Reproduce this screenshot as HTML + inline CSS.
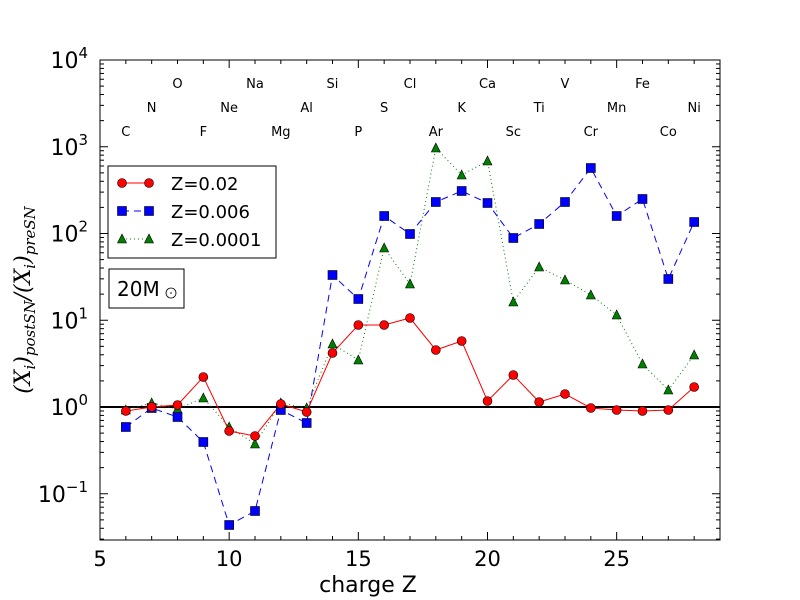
<!DOCTYPE html>
<html><head><meta charset="utf-8"><style>body{margin:0;background:#fff}svg{display:block}text{font-family:"DejaVu Sans","Liberation Sans",sans-serif}</style></head>
<body><svg id="s" width="800" height="600" xmlns="http://www.w3.org/2000/svg"></svg>
<script>
const s=document.getElementById('s');let h='';
const X=z=>100+(z-5)*25.833;const Y=e=>60+(4-e)*86.75;
h+='<rect x="100" y="60" width="620" height="480" fill="#fff" stroke="#000" stroke-width="1"/>';
for(let z=5;z<=29;z++){const x=X(z),L=z%5==0?8:4;h+=`<line x1="${x}" y1="540" x2="${x}" y2="${540-L}" stroke="#000"/><line x1="${x}" y1="60" x2="${x}" y2="${60+L}" stroke="#000"/>`;if(z%5==0)h+=`<text x="${x}" y="566" font-size="21" text-anchor="middle">${z}</text>`;}
for(let e=-2;e<=4;e++){for(let m=1;m<10;m++){const v=e+Math.log10(m);if(v<-1.53||v>4)continue;const y=Y(v),L=m==1?8:4;h+=`<line x1="100" y1="${y}" x2="${100+L}" y2="${y}" stroke="#000"/><line x1="720" y1="${y}" x2="${720-L}" y2="${y}" stroke="#000"/>`;}
if(e>=-1)h+=`<text x="88" y="${Y(e)+8}" font-size="22" text-anchor="end">10<tspan dy="-10" font-size="15">${e<0?'−1':e}</tspan></text>`;}
h+='<line x1="100" y1="407" x2="720" y2="407" stroke="#000" stroke-width="2"/>';
const els=['C','N','O','F','Ne','Na','Mg','Al','Si','P','S','Cl','Ar','K','Ca','Sc','Ti','V','Cr','Mn','Fe','Co','Ni'];
els.forEach((t,i)=>{const z=6+i;const y=[131,107,83][i%3];h+=`<text x="${X(z)}" y="${y+5}" font-size="13" text-anchor="middle">${t}</text>`;});
const R=[411,407,405,377,431,436,404,412,353,325,325,318,350,341,401,375,402,394,408,410,411,410,387];
const B=[427,408,417,442,525,511,410,423,275,299,216,234,202,191,203,238,224,202,168,216,199,279,222];
const G=[410,403,409,398,427,444,403,408,344,360,248,284,148,175,161,302,267,280,295,315,364,390,355];
const pts=a=>a.map((y,i)=>X(6+i)+','+y).join(' ');
h+=`<polyline points="${pts(G)}" fill="none" stroke="green" stroke-dasharray="1,3"/>`;
h+=`<polyline points="${pts(B)}" fill="none" stroke="blue" stroke-dasharray="7,5"/>`;
h+=`<polyline points="${pts(R)}" fill="none" stroke="red"/>`;
const tri=(x,y)=>`<polygon points="${x},${y-5} ${x-4.5},${y+4} ${x+4.5},${y+4}" fill="green" stroke="#000" stroke-width="0.6"/>`;
const sq=(x,y)=>`<rect x="${x-4.5}" y="${y-4.5}" width="9" height="9" fill="blue" stroke="#000" stroke-width="0.6"/>`;
const ci=(x,y)=>`<circle cx="${x}" cy="${y}" r="4.5" fill="red" stroke="#000" stroke-width="0.6"/>`;
G.forEach((y,i)=>h+=tri(X(6+i),y));B.forEach((y,i)=>h+=sq(X(6+i),y));R.forEach((y,i)=>h+=ci(X(6+i),y));
h+='<rect x="108" y="166" width="168" height="92" fill="#fff" stroke="#000"/>';
h+='<line x1="122" y1="183" x2="149" y2="183" stroke="red"/>'+ci(122,183)+ci(149,183);
h+='<line x1="122" y1="211" x2="149" y2="211" stroke="blue" stroke-dasharray="7,5"/>'+sq(122,211)+sq(149,211);
h+='<line x1="122" y1="239" x2="149" y2="239" stroke="green" stroke-dasharray="1,3"/>'+tri(122,239)+tri(149,239);
h+='<text x="171" y="190" font-size="18">Z=0.02</text><text x="171" y="218" font-size="18">Z=0.006</text><text x="171" y="246" font-size="18">Z=0.0001</text>';
h+='<rect x="109" y="269" width="75" height="39" fill="#fff" stroke="#000"/><text x="117" y="296" font-size="20">20M</text><circle cx="171" cy="293" r="5" fill="none" stroke="#000" stroke-width="0.8"/><circle cx="171" cy="293" r="0.8"/>';
h+='<text x="368" y="592" font-size="22" text-anchor="middle">charge Z</text>';
h+='<text transform="translate(30,300) rotate(-90)" font-size="22" text-anchor="middle" style="font-style:italic;font-family:\'DejaVu Serif\',\'Liberation Serif\',serif">(X<tspan font-size="15" dy="5">i</tspan><tspan dy="-5">)</tspan><tspan font-size="15" dy="5">postSN</tspan><tspan dy="-5">/(X</tspan><tspan font-size="15" dy="5">i</tspan><tspan dy="-5">)</tspan><tspan font-size="15" dy="5">preSN</tspan></text>';
s.innerHTML=h;
</script></body></html>
